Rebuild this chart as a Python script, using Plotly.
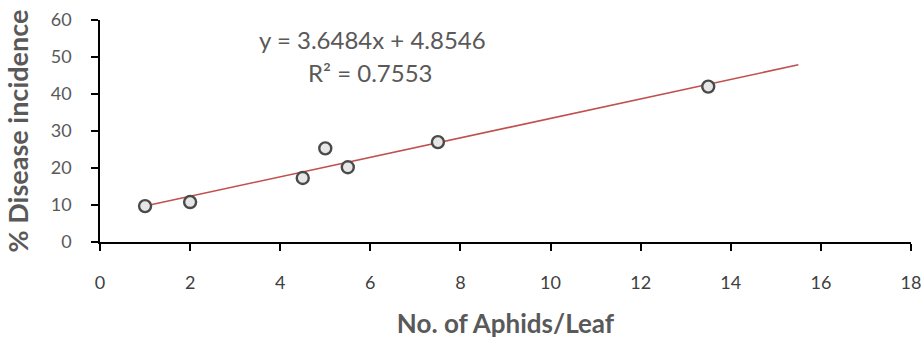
import numpy as np
import plotly.graph_objects as go

aphids = [1, 2, 4.5, 5, 5.5, 7.5, 13.5]
incidence = [9.7, 10.8, 17.3, 25.3, 20.2, 27.0, 42.0]
x_ticks = [0, 2, 4, 6, 8, 10, 12, 14, 16, 18]
y_ticks = [0, 10, 20, 30, 40, 50, 60]
eq_text = "y = 3.6484x + 4.8546"
r2_text = "R² = 0.7553"
trend_forward = 2.0

slope, intercept = np.polyfit(aphids, incidence, 1)
tx = [min(aphids), max(aphids) + trend_forward]
ty = [slope * v + intercept for v in tx]

font = "Lato, 'Open Sans', sans-serif"
fig = go.Figure()
fig.add_trace(go.Scatter(x=tx, y=ty, mode="lines",
                         line=dict(color="#C0504D", width=1.6), hoverinfo="skip"))
fig.add_trace(go.Scatter(x=aphids, y=incidence, mode="markers",
                         marker=dict(symbol="circle", size=12, color="#E6E6E6",
                                     line=dict(color="#4A4A4A", width=2.4))))

fig.update_layout(
    width=924, height=339, showlegend=False,
    margin=dict(l=100, r=13, t=20, b=97),
    plot_bgcolor="white", paper_bgcolor="white",
    font=dict(family=font, size=18, color="#595959"),
    xaxis=dict(range=[0, 18], tickvals=x_ticks, showgrid=False, zeroline=False,
               showline=True, linecolor="black", linewidth=1.5,
               ticks="outside", ticklen=7, tickwidth=1.5, tickcolor="black",
               tickfont=dict(size=18, color="#404040"), ticklabelstandoff=17,
               automargin=False, ticklabeloverflow="allow",
               title=dict(text="<b>No. of Aphids/Leaf</b>", font=dict(size=26, color="#595959"),
                          standoff=27)),
    yaxis=dict(range=[0, 60], tickvals=y_ticks, showgrid=False, zeroline=False,
               showline=True, linecolor="black", linewidth=1.5,
               ticks="outside", ticklen=7, tickwidth=1.5, tickcolor="black",
               tickfont=dict(size=18, color="#595959"), ticklabelstandoff=16,
               automargin=False,
               title=dict(text="<b>% Disease incidence</b>", font=dict(size=27, color="#595959"),
                          standoff=14)),
    annotations=[
        dict(x=6.04, y=54.8, xref="x", yref="y", text=eq_text, showarrow=False,
             font=dict(size=24, color="#595959")),
        dict(x=6.0, y=45.8, xref="x", yref="y", text=r2_text, showarrow=False,
             font=dict(size=24, color="#595959")),
    ],
)
fig.write_html("out.html")
